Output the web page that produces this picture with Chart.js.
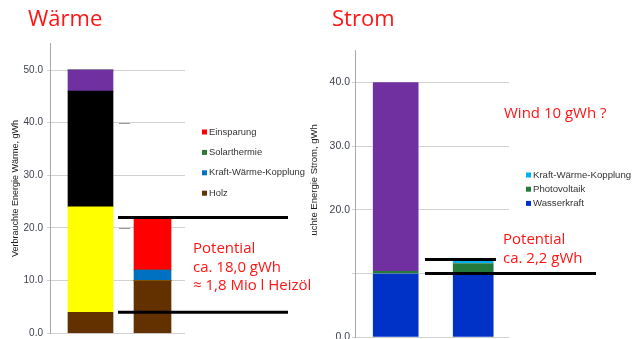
<!DOCTYPE html>
<html>
<head>
<meta charset="utf-8">
<script src="https://cdn.jsdelivr.net/npm/chart.js@4/dist/chart.umd.min.js"></script>
<style>
  html, body { margin: 0; padding: 0; background: #fff; overflow: hidden; width: 632px; height: 339px; }
  #boxW { position: absolute; left: 0; top: 0; z-index: 2; }
  #boxS { position: absolute; left: 300px; top: 0; z-index: 1; }
  canvas { display: block; }
</style>
</head>
<body>
<div id="boxW"><canvas id="chartW" width="322" height="360"></canvas></div>
<div id="boxS"><canvas id="chartS" width="332" height="360"></canvas></div>
<script>
// ---------- Wärme (gWh) : Säule 1 = heutiger Verbrauch, Säule 2 = Potential ----------
const waermeBars       = ['Verbrauch', 'Potential'];
const waermeHolz       = [4.0, 10.0];
const waermeHeizoel    = [20.0, 0];
const waermeErdgas     = [22.0, 0];
const waermeStrom      = [4.0, 0];
const waermeKWK        = [0, 2.0];
const waermeSolar      = [0, 0];
const waermeEinsparung = [0, 10.0];
const waermeTicks      = [0, 10, 20, 30, 40, 50];
const waermeTickLabels = ['0.0', '10.0', '20.0', '30.0', '40.0', '50.0'];
const waermeMarks      = [22.0, 4.0];          // Spanne 22,0 − 4,0 = 18,0 gWh
const waermeLegend     = ['Einsparung', 'Solarthermie', 'Kraft-Wärme-Kopplung', 'Holz'];

// ---------- Strom (gWh) ----------
const stromBars        = ['Verbrauch', 'Potential'];
const stromWasser      = [10.0, 10.0];
const stromPV          = [0.4, 1.6];
const stromKWK         = [0, 0.6];
const stromUebrig      = [29.6, 0];
const stromTicks       = [0, 10, 20, 30, 40];
const stromTickLabels  = ['0.0', '', '20.0', '30.0', '40.0'];
const stromMarks       = [12.2, 10.0];         // Spanne 12,2 − 10,0 = 2,2 gWh
const stromLegend      = ['Kraft-Wärme-Kopplung', 'Photovoltaik', 'Wasserkraft'];

// ---------- Texte ----------
const titleW  = 'Wärme';
const titleS  = 'Strom';
const axisW   = 'Verbrauchte Energie Wärme, gWh';
const axisS   = 'Verbrauchte Energie Strom, gWh';
const noteW   = ['Potential', 'ca. 18,0 gWh', '≈ 1,8 Mio l Heizöl'];
const noteS   = ['Potential', 'ca. 2,2 gWh'];
const noteWind = 'Wind 10 gWh ?';

// ---------- Darstellung ----------
const RED = '#ff1414';
const TICK_COLOR = '#3f4350';
const SANS = '"Liberation Sans", Arial, sans-serif';
const NOTE_FONT = '"Open Sans", sans-serif';

// stacked bars on a linear x scale so each column gets its own width and place
function columnSets(series, xs, widths, border) {
  const sets = [];
  series.forEach(s => {
    s.values.forEach((v, i) => {
      sets.push({
        type: 'bar',
        label: s.label,
        data: [{ x: xs[i], y: v }],
        backgroundColor: s.color,
        borderColor: border ? 'rgba(255,255,255,0.5)' : s.color,
        borderWidth: border ? { left: 1, right: 1, top: 0, bottom: 0 } : 0,
        borderSkipped: false,
        barThickness: widths[i],
        order: 1
      });
    });
  });
  return sets;
}

// horizontal marker lines (values on the y scale)
function markerSets(values, spans) {
  return values.map((v, i) => ({
    type: 'line',
    label: 'mark' + i,
    stack: 'mark' + i,
    data: [{ x: spans[i][0], y: v }, { x: spans[i][1], y: v }],
    borderColor: '#000',
    borderWidth: 3,
    pointRadius: 0,
    tension: 0,
    clip: false,
    order: 0
  }));
}

function yAxis(opts) {
  return {
    type: 'linear',
    stacked: true,
    min: 0,
    max: opts.max,
    afterFit: s => { s.width = opts.width; },
    afterBuildTicks: s => { s.ticks = opts.ticks.map(v => ({ value: v })); },
    ticks: {
      callback: v => opts.labels[opts.ticks.indexOf(v)] ?? '',
      color: TICK_COLOR,
      font: { family: SANS, size: opts.tickSize },
      padding: opts.tickPad
    },
    grid: { color: '#d2d2d2', lineWidth: 1, tickLength: 3, drawTicks: true },
    border: { color: '#a9a9a9', width: 1 },
    title: {
      display: true,
      text: opts.title,
      color: '#1a1a1a',
      font: { family: SANS, size: opts.titleSize },
      padding: { top: opts.titlePad, bottom: 0 }
    }
  };
}

function xAxis(min, max) {
  return { type: 'linear', min, max, stacked: true, offset: false, display: false };
}

function drawLegend(ctx, chart, names, left, top, step, size) {
  ctx.save();
  ctx.font = size + 'px ' + SANS;
  ctx.textBaseline = 'middle';
  ctx.textAlign = 'left';
  names.forEach((n, i) => {
    const ds = chart.data.datasets.find(d => d.label === n);
    const y = top + i * step;
    ctx.fillStyle = ds.backgroundColor;
    ctx.fillRect(left, y - 2.5, 5, 5);
    ctx.fillStyle = '#333';
    ctx.fillText(n, left + 7, y);
  });
  ctx.restore();
}

function drawText(ctx, text, x, y, size, color) {
  ctx.save();
  ctx.font = size + 'px ' + NOTE_FONT;
  ctx.fillStyle = color;
  ctx.textBaseline = 'middle';
  ctx.textAlign = 'left';
  ctx.fillText(text, x, y);
  ctx.restore();
}

// ---------- Wärme ----------
const waermeSeries = [
  { label: 'Holz',                 values: waermeHolz,       color: '#633100' },
  { label: 'Heizöl',               values: waermeHeizoel,    color: '#ffff00' },
  { label: 'Erdgas',               values: waermeErdgas,     color: '#000000' },
  { label: 'Strom',                values: waermeStrom,      color: '#7030a0' },
  { label: 'Kraft-Wärme-Kopplung', values: waermeKWK,        color: '#0070c0' },
  { label: 'Solarthermie',         values: waermeSolar,      color: '#2e7a34' },
  { label: 'Einsparung',           values: waermeEinsparung, color: '#ff0000' }
];

const waermeDecor = {
  id: 'waermeDecor',
  afterDraw(chart) {
    const ctx = chart.ctx;
    const y = chart.scales.y;
    // kleine graue Striche an den Rasterlinien 40 und 20
    ctx.save();
    ctx.strokeStyle = '#9a9a9a';
    ctx.lineWidth = 1;
    [40, 20].forEach(v => {
      const py = Math.round(y.getPixelForValue(v)) + 0.5;
      ctx.beginPath(); ctx.moveTo(119, py); ctx.lineTo(130, py); ctx.stroke();
    });
    ctx.restore();
    drawText(ctx, titleW, 28, 20, 22, RED);
    drawLegend(ctx, chart, waermeLegend, 202, 132, 20.4, 9.4);
    // Textfeld mit weißem Hintergrund
    ctx.save();
    ctx.fillStyle = '#fff';
    ctx.fillRect(188, 236, 134, 62);
    ctx.restore();
    noteW.forEach((t, i) => drawText(ctx, t, 193, 249 + i * 18.5, 15, RED));
  }
};

new Chart(document.getElementById('chartW'), {
  type: 'bar',
  data: {
    datasets: [
      ...columnSets(waermeSeries, [1, 2], [45, 37], false),
      ...markerSets(waermeMarks, [[1.444, 4.185], [1.444, 4.185]])
    ]
  },
  options: {
    responsive: false,
    animation: false,
    layout: { padding: { left: 0, top: 43.7, right: 137, bottom: 26.7 } },
    scales: {
      x: xAxis(0.347, 2.524),
      y: yAxis({ max: 55, width: 50, ticks: waermeTicks, labels: waermeTickLabels,
                 tickSize: 10, tickPad: 4, title: axisW, titleSize: 9, titlePad: 10.6 })
    },
    plugins: { legend: { display: false }, tooltip: { enabled: false } }
  },
  plugins: [waermeDecor]
});

// ---------- Strom ----------
const stromSeries = [
  { label: 'Wasserkraft',          values: stromWasser, color: '#0032c8' },
  { label: 'Photovoltaik',         values: stromPV,     color: '#237a3a' },
  { label: 'Kraft-Wärme-Kopplung', values: stromKWK,    color: '#00b0f0' },
  { label: 'Übrige',               values: stromUebrig, color: '#7030a0' }
];

const stromDecor = {
  id: 'stromDecor',
  afterDraw(chart) {
    const ctx = chart.ctx;
    drawText(ctx, titleS, 32, 20, 22, RED);
    drawText(ctx, noteWind, 204, 114, 15, RED);
    noteS.forEach((t, i) => drawText(ctx, t, 203, 240 + i * 19, 15, RED));
    drawLegend(ctx, chart, stromLegend, 226, 175, 14.2, 9.6);
  }
};

new Chart(document.getElementById('chartS'), {
  type: 'bar',
  data: {
    datasets: [
      ...columnSets(stromSeries, [1, 2], [47, 42], true),
      ...markerSets(stromMarks, [[1.378, 2.294], [1.378, 3.585]])
    ]
  },
  options: {
    responsive: false,
    animation: false,
    layout: { padding: { left: 0, top: 50.4, right: 123, bottom: 22.7 } },
    scales: {
      x: xAxis(0.475, 2.462),
      y: yAxis({ max: 45, width: 55, ticks: stromTicks, labels: stromTickLabels,
                 tickSize: 10.5, tickPad: 2, title: axisS, titleSize: 9.5, titlePad: 8.3 })
    },
    plugins: { legend: { display: false }, tooltip: { enabled: false } }
  },
  plugins: [stromDecor]
});
</script>
</body>
</html>
